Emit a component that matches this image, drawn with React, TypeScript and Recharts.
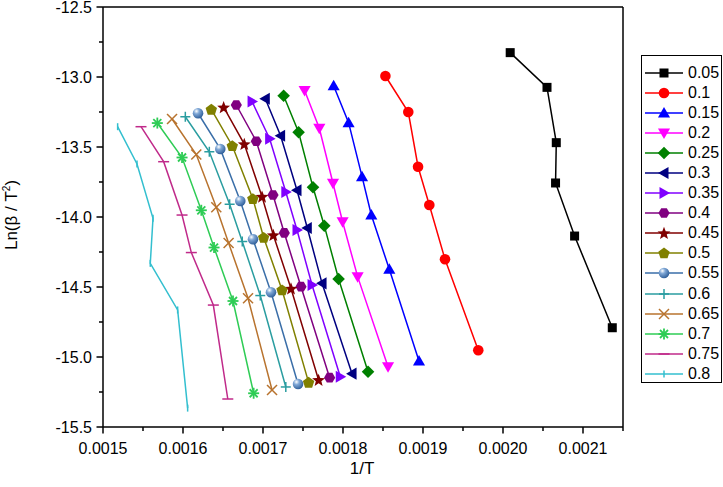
import React from 'react';
import { LineChart, Line, XAxis, YAxis, ReferenceLine, Legend } from 'recharts';

// ---------- data ----------
const seriesNames = ['0.05', '0.1', '0.15', '0.2', '0.25', '0.3', '0.35', '0.4', '0.45', '0.5', '0.55', '0.6', '0.65', '0.7', '0.75', '0.8'];

const x005 = [0.002009, 0.002055, 0.0020666, 0.0020657, 0.0020895, 0.0021366];
const y005 = [-12.826, -13.074, -13.469, -13.757, -14.136, -14.791];
const x01 = [0.001853, 0.0018816, 0.0018938, 0.0019079, 0.0019275, 0.0019691];
const y01 = [-12.993, -13.25, -13.641, -13.914, -14.302, -14.952];
const x015 = [0.0017883, 0.001807, 0.0018238, 0.0018354, 0.0018579, 0.001895];
const y015 = [-13.062, -13.326, -13.712, -13.986, -14.374, -15.029];
const x02 = [0.001752, 0.0017704, 0.0017875, 0.0017995, 0.0018183, 0.0018563];
const y02 = [-13.096, -13.366, -13.759, -14.034, -14.426, -15.069];
const x025 = [0.0017258, 0.0017445, 0.0017625, 0.0017766, 0.0017945, 0.0018313];
const y025 = [-13.134, -13.395, -13.788, -14.062, -14.443, -15.105];
const x03 = [0.0017029, 0.001722, 0.0017425, 0.0017554, 0.0017738, 0.0018113];
const y03 = [-13.155, -13.42, -13.809, -14.079, -14.474, -15.119];
const x035 = [0.0016863, 0.0017083, 0.0017285, 0.0017425, 0.0017613, 0.0017966];
const y035 = [-13.175, -13.441, -13.821, -14.093, -14.486, -15.141];
const x04 = [0.0016666, 0.0016916, 0.0017125, 0.0017266, 0.0017475, 0.0017833];
const y04 = [-13.2, -13.459, -13.843, -14.114, -14.498, -15.148];
const x045 = [0.0016508, 0.0016766, 0.0016988, 0.0017129, 0.001735, 0.0017695];
const y045 = [-13.216, -13.479, -13.855, -14.129, -14.511, -15.164];
const x05 = [0.0016354, 0.0016616, 0.0016873, 0.0017008, 0.0017238, 0.001757];
const y05 = [-13.231, -13.491, -13.869, -14.146, -14.521, -15.181];
const x055 = [0.0016188, 0.0016466, 0.0016716, 0.0016875, 0.00171, 0.0017438];
const y055 = [-13.259, -13.514, -13.886, -14.159, -14.538, -15.193];
const x06 = [0.0016029, 0.0016329, 0.0016583, 0.0016741, 0.0016966, 0.0017285];
const y06 = [-13.284, -13.534, -13.909, -14.175, -14.561, -15.214];
const x065 = [0.0015863, 0.0016166, 0.0016416, 0.001657, 0.0016813, 0.0017113];
const y065 = [-13.3, -13.554, -13.931, -14.186, -14.581, -15.236];
const x07 = [0.0015679, 0.0015988, 0.0016229, 0.0016388, 0.0016625, 0.0016883];
const y07 = [-13.329, -13.575, -13.952, -14.218, -14.6, -15.259];
const x075 = [0.0015475, 0.0015758, 0.0015988, 0.0016104, 0.0016379, 0.001656];
const y075 = [-13.355, -13.605, -13.986, -14.254, -14.629, -15.3];
const x08 = [0.0015183, 0.0015425, 0.0015625, 0.0015591, 0.0015933, 0.0016058];
const y08 = [-13.355, -13.621, -14.009, -14.331, -14.664, -15.365];

const xTicks = [0.0015, 0.00155, 0.0016, 0.00165, 0.0017, 0.00175, 0.0018, 0.00185, 0.0019, 0.00195, 0.002, 0.00205, 0.0021, 0.00215];
const yTicks = [-15.5, -15.25, -15.0, -14.75, -14.5, -14.25, -14.0, -13.75, -13.5, -13.25, -13.0, -12.75, -12.5];

// ---------- styles ----------
const FONT = '"Liberation Sans", Arial, Helvetica, sans-serif';
const PLOT_LEFT = 103;
const PLOT_BOTTOM = 427;

type Kind = 'square' | 'circle' | 'triUp' | 'triDown' | 'diamond' | 'triLeft' | 'triRight' | 'hexagon' | 'star' | 'pentagon' | 'ball' | 'plus' | 'cross' | 'asterisk' | 'hbar' | 'vbar';

const styles: { color: string; kind: Kind }[] = [
  { color: '#000000', kind: 'square' },
  { color: '#FF0000', kind: 'circle' },
  { color: '#0000FF', kind: 'triUp' },
  { color: '#FF00FF', kind: 'triDown' },
  { color: '#008000', kind: 'diamond' },
  { color: '#000080', kind: 'triLeft' },
  { color: '#8000FF', kind: 'triRight' },
  { color: '#800080', kind: 'hexagon' },
  { color: '#800000', kind: 'star' },
  { color: '#808000', kind: 'pentagon' },
  { color: '#3A6EA8', kind: 'ball' },
  { color: '#2A9DA0', kind: 'plus' },
  { color: '#B8732E', kind: 'cross' },
  { color: '#2ECC55', kind: 'asterisk' },
  { color: '#C02A8A', kind: 'hbar' },
  { color: '#33BFCF', kind: 'vbar' },
];

const xs = [x005, x01, x015, x02, x025, x03, x035, x04, x045, x05, x055, x06, x065, x07, x075, x08];
const ys = [y005, y01, y015, y02, y025, y03, y035, y04, y045, y05, y055, y06, y065, y07, y075, y08];

const seriesData = xs.map((xa, i) => xa.map((x, j) => ({ x, y: ys[i][j] })));

function poly(cx: number, cy: number, r: number, n: number, startDeg: number, inner?: number) {
  const pts: string[] = [];
  const total = inner ? n * 2 : n;
  for (let k = 0; k < total; k++) {
    const rr = inner && k % 2 === 1 ? inner : r;
    const a = ((startDeg + (360 / total) * k) * Math.PI) / 180;
    pts.push(`${(cx + rr * Math.cos(a)).toFixed(2)},${(cy + rr * Math.sin(a)).toFixed(2)}`);
  }
  return pts.join(' ');
}

function Marker({ kind, color, cx, cy }: { kind: Kind; color: string; cx: number; cy: number }) {
  const sw = 1.5;
  switch (kind) {
    case 'square':
      return <rect x={cx - 4.5} y={cy - 4.5} width={9} height={9} fill={color} />;
    case 'circle':
      return <circle cx={cx} cy={cy} r={5.3} fill={color} />;
    case 'triUp':
      return <polygon points={poly(cx, cy + 1, 7, 3, -90)} fill={color} />;
    case 'triDown':
      return <polygon points={poly(cx, cy - 1, 7, 3, 90)} fill={color} />;
    case 'triLeft':
      return <polygon points={poly(cx + 1, cy, 7, 3, 180)} fill={color} />;
    case 'triRight':
      return <polygon points={poly(cx - 1, cy, 7, 3, 0)} fill={color} />;
    case 'diamond':
      return <polygon points={poly(cx, cy, 6.3, 4, -90)} fill={color} />;
    case 'hexagon':
      return <polygon points={poly(cx, cy, 5.6, 6, 0)} fill={color} />;
    case 'pentagon':
      return <polygon points={poly(cx, cy + 0.5, 6, 5, -90)} fill={color} />;
    case 'star':
      return <polygon points={poly(cx, cy + 0.5, 6.8, 5, -90, 2.9)} fill={color} />;
    case 'ball':
      return (
        <g>
          <defs>
            <radialGradient id="ballGrad" cx="0.35" cy="0.3" r="0.75">
              <stop offset="0" stopColor="#ffffff" />
              <stop offset="0.35" stopColor="#7FA7D6" />
              <stop offset="1" stopColor="#2A5A95" />
            </radialGradient>
          </defs>
          <circle cx={cx} cy={cy} r={5.3} fill="url(#ballGrad)" />
        </g>
      );
    case 'plus':
      return (
        <g stroke={color} strokeWidth={sw}>
          <line x1={cx - 5} y1={cy} x2={cx + 5} y2={cy} />
          <line x1={cx} y1={cy - 5} x2={cx} y2={cy + 5} />
        </g>
      );
    case 'cross':
      return (
        <g stroke={color} strokeWidth={sw}>
          <line x1={cx - 5} y1={cy - 5} x2={cx + 5} y2={cy + 5} />
          <line x1={cx - 5} y1={cy + 5} x2={cx + 5} y2={cy - 5} />
        </g>
      );
    case 'asterisk':
      return (
        <g stroke={color} strokeWidth={1.8}>
          <line x1={cx - 5.5} y1={cy} x2={cx + 5.5} y2={cy} />
          <line x1={cx} y1={cy - 5.5} x2={cx} y2={cy + 5.5} />
          <line x1={cx - 4} y1={cy - 4} x2={cx + 4} y2={cy + 4} />
          <line x1={cx - 4} y1={cy + 4} x2={cx + 4} y2={cy - 4} />
        </g>
      );
    case 'hbar':
      return <line x1={cx - 5.5} y1={cy} x2={cx + 5.5} y2={cy} stroke={color} strokeWidth={sw} />;
    case 'vbar':
      return <line x1={cx} y1={cy - 3.5} x2={cx} y2={cy + 3.5} stroke={color} strokeWidth={sw} />;
  }
  return null;
}

const makeDot = (i: number) => (p: any) => (
  <Marker key={`d${i}-${p.index}`} kind={styles[i].kind} color={styles[i].color} cx={p.cx} cy={p.cy} />
);

const XTick = (props: any) => {
  const { x, payload, index } = props;
  const major = index % 2 === 0;
  return (
    <g>
      <line x1={x} y1={PLOT_BOTTOM} x2={x} y2={PLOT_BOTTOM + (major ? 6.5 : 4)} stroke="#000" strokeWidth={1.5} />
      {major && (
        <text x={x} y={454} textAnchor="middle" fontSize={16} fontFamily={FONT} fill="#000">
          {Number(payload.value).toFixed(4)}
        </text>
      )}
    </g>
  );
};

const YTick = (props: any) => {
  const { y, payload, index } = props;
  const major = index % 2 === 0;
  return (
    <g>
      <line x1={PLOT_LEFT - (major ? 6.5 : 4)} y1={y} x2={PLOT_LEFT} y2={y} stroke="#000" strokeWidth={1.5} />
      {major && (
        <text x={92} y={y + 5.5} textAnchor="end" fontSize={16} fontFamily={FONT} fill="#000">
          {Number(payload.value).toFixed(1)}
        </text>
      )}
    </g>
  );
};

const LegendBox = () => (
  <div
    style={{
      width: 81,
      height: 328,
      boxSizing: 'border-box',
      border: '1px solid #000',
      background: '#fff',
      paddingTop: 6.5,
      fontFamily: FONT,
      fontSize: 16,
      color: '#000',
    }}
  >
    {seriesNames.map((name, i) => (
      <div key={name} style={{ height: 20.1, display: 'flex', alignItems: 'center' }}>
        <svg width={45} height={20} style={{ display: 'block', flex: 'none' }}>
          <line x1={3} y1={10} x2={41} y2={10} stroke={styles[i].color} strokeWidth={1.5} />
          <Marker kind={styles[i].kind} color={styles[i].color} cx={22} cy={10} />
        </svg>
        <span style={{ lineHeight: '20px', paddingLeft: 1 }}>{name}</span>
      </div>
    ))}
  </div>
);

export default function App() {
  return (
    <div style={{ position: 'absolute', left: 0, top: 0, width: 723, height: 487, background: '#fff' }}>
      <LineChart width={723} height={487} margin={{ top: 7, right: 19, bottom: 0, left: 0 }}>
        <XAxis
          type="number"
          dataKey="x"
          domain={[0.0015, 0.00215]}
          ticks={xTicks}
          allowDataOverflow
          interval={0}
          height={60}
          axisLine={{ stroke: '#000', strokeWidth: 1.5 }}
          tickLine={false}
          tick={<XTick />}
        />
        <YAxis
          type="number"
          dataKey="y"
          domain={[-15.5, -12.5]}
          ticks={yTicks}
          allowDataOverflow
          interval={0}
          width={103}
          axisLine={{ stroke: '#000', strokeWidth: 1.5 }}
          tickLine={false}
          tick={<YTick />}
        />
        <ReferenceLine y={-12.5} stroke="#000" strokeWidth={1.5} />
        <ReferenceLine x={0.00215} stroke="#000" strokeWidth={1.5} />
        {seriesData.map((d, i) => (
          <Line
            key={seriesNames[i]}
            data={d}
            dataKey="y"
            name={seriesNames[i]}
            stroke={styles[i].color}
            strokeWidth={1.5}
            dot={makeDot(i)}
            activeDot={false}
            isAnimationActive={false}
            type="linear"
          />
        ))}
        <Legend
          layout="vertical"
          align="right"
          verticalAlign="top"
          content={<LegendBox />}
          wrapperStyle={{ top: 55, right: 1, left: 'auto' }}
        />
        <text x={362} y={474} textAnchor="middle" fontSize={17} fontFamily={FONT} fill="#000">
          1/T
        </text>
        <text
          x={17}
          y={215}
          transform="rotate(-90, 17, 215)"
          textAnchor="middle"
          fontSize={17}
          fontFamily={FONT}
          fill="#000"
        >
          Ln(β / T<tspan dy={-7} fontSize={10}>2</tspan>
          <tspan dy={7}>)</tspan>
        </text>
      </LineChart>
    </div>
  );
}
